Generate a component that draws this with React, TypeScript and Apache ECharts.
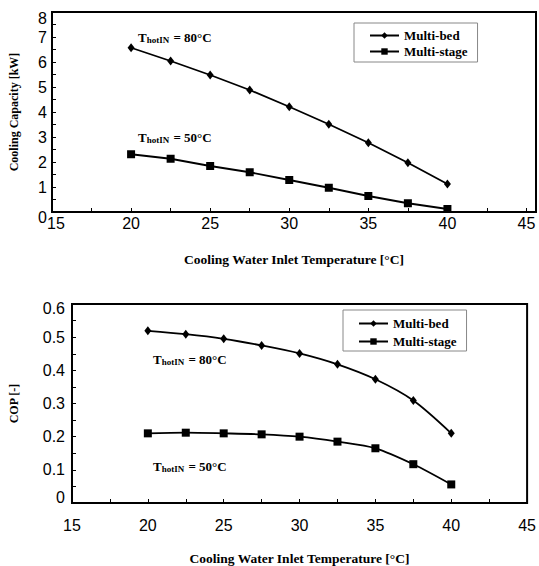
import React, { useEffect, useRef } from "react";
import * as echarts from "echarts";

const temps = [20, 22.5, 25, 27.5, 30, 32.5, 35, 37.5, 40];
const capacityMultiBed = [6.57, 6.04, 5.48, 4.88, 4.21, 3.51, 2.77, 1.97, 1.12];
const capacityMultiStage = [2.31, 2.13, 1.84, 1.59, 1.28, 0.97, 0.64, 0.35, 0.12];
const copMultiBed = [0.519, 0.509, 0.495, 0.475, 0.451, 0.418, 0.373, 0.309, 0.21];
const copMultiStage = [0.21, 0.212, 0.21, 0.207, 0.2, 0.185, 0.165, 0.117, 0.056];
const seriesNames = ["Multi-bed", "Multi-stage"];
const xTitle = "Cooling Water Inlet Temperature [°C]";
const yTitles = ["Cooling Capacity [kW]", "COP [-]"];

const SANS = "'Liberation Sans', Arial, sans-serif";
const SERIF = "'Liberation Serif', 'Times New Roman', serif";

const zip = (xs: number[], ys: number[]) => xs.map((x, i) => [x, ys[i]]);

const lbl = { fontFamily: SANS, fontSize: 16, color: "#000" };
const labelRich = {
  r: { ...lbl, padding: [0, 0, 0, 8] },
  d5: { ...lbl, padding: [10, 0, 0, 0] },
  d6: { ...lbl, padding: [12, 0, 0, 0] },
  d4: { ...lbl, padding: [8, 0, 0, 0] },
  u6: { ...lbl, padding: [0, 0, 12, 0] },
};

export default function App() {
  const ref = useRef<HTMLDivElement>(null);
  useEffect(() => {
    if (!ref.current) return;
    const chart = echarts.init(ref.current, null, { renderer: "svg" });

    const xAxisBase = (max: number, margin: number, nameGap: number, gridIndex: number, shiftFirst: boolean) => ({
      type: "value",
      gridIndex,
      min: 15,
      max,
      interval: 5,
      name: xTitle,
      nameLocation: "middle",
      nameGap,
      nameTextStyle: { fontFamily: SERIF, fontWeight: "bold", fontSize: 13.5, color: "#000" },
      axisLine: { show: true, lineStyle: { color: "#000", width: 2 } },
      axisTick: { show: true, inside: true, length: 4, lineStyle: { color: "#000", width: 1 } },
      minorTick: { show: true, splitNumber: 2, length: 4, lineStyle: { color: "#000", width: 1 } },
      splitLine: { show: false },
      axisLabel: {
        ...lbl,
        margin,
        rich: labelRich,
        formatter: (v: number) => {
          if (Math.abs(v % 5) > 1e-6) return "";
          if (shiftFirst && v === 15) return "{r|15}";
          return String(v);
        },
      },
    });

    const yAxisBase = (max: number, interval: number, name: string, nameGap: number, margin: number, gridIndex: number, fmt: (v: number) => string) => ({
      type: "value",
      gridIndex,
      min: 0,
      max,
      interval,
      name,
      nameLocation: "middle",
      nameGap,
      nameTextStyle: { fontFamily: SERIF, fontWeight: "bold", fontSize: 12, color: "#000" },
      axisLine: { show: true, lineStyle: { color: "#000", width: 2 } },
      axisTick: { show: true, inside: true, length: 4, lineStyle: { color: "#000", width: 1 } },
      minorTick: { show: true, splitNumber: 2, length: 4, lineStyle: { color: "#000", width: 1 } },
      splitLine: { show: false },
      axisLabel: { ...lbl, margin, rich: labelRich, formatter: fmt },
    });

    const lineSeries = (name: string, data: number[], idx: number, symbol: string, symbolSize: any, smooth: any) => ({
      type: "line",
      name,
      xAxisIndex: idx,
      yAxisIndex: idx,
      data: zip(temps, data),
      symbol,
      symbolSize,
      smooth,
      showSymbol: true,
      lineStyle: { color: "#000", width: 1.8 },
      itemStyle: { color: "#000" },
      emphasis: { disabled: true },
    });

    const legendBase = (left: number, top: number, padding: number[], itemGap: number) => ({
      show: true,
      orient: "vertical",
      left,
      top,
      padding,
      itemGap,
      itemWidth: 29,
      itemHeight: 8,
      borderColor: "#888",
      borderWidth: 1,
      backgroundColor: "#fff",
      data: seriesNames,
      textStyle: { fontFamily: SERIF, fontWeight: "bold", fontSize: 13, color: "#000" },
      selectedMode: false,
    });

    const rich = {
      a: { fontFamily: SERIF, fontWeight: "bold", fontSize: 13, fill: "#000", color: "#000" },
      b: { fontFamily: SERIF, fontWeight: "bold", fontSize: 9, fill: "#000", color: "#000", padding: [6, 1, 0, 0] },
    };
    const ann = (x: number, y: number, t: string) => ({
      type: "text",
      x,
      y,
      silent: true,
      style: {
        text: `{a|T}{b|hotIN}{a| = ${t}°C}`,
        rich,
        fill: "#000",
        align: "left",
        verticalAlign: "middle",
      },
    });

    chart.setOption({
      animation: false,
      backgroundColor: "#fff",
      grid: [
        { left: 47, top: 12, width: 489, height: 200, show: true, borderColor: "#000", borderWidth: 2, backgroundColor: "transparent" },
        { left: 67, top: 304, width: 463, height: 205, show: true, borderColor: "#000", borderWidth: 2, backgroundColor: "transparent" },
      ],
      xAxis: [xAxisBase(45.6, 3, 40, 0, true), xAxisBase(45, 14, 48, 1, false)],
      yAxis: [
        yAxisBase(8, 1, yTitles[0], 32, 5, 0, (v: number) => (v === 0 ? "{d5|0}" : v === 8 ? "{d6|8}" : String(v))),
        yAxisBase(0.6, 0.1, yTitles[1], 52, 7, 1, (v: number) => (v === 0 ? "{u6|0}" : Math.abs(v - 0.6) < 1e-6 ? "{d4|0.6}" : v.toFixed(1))),
      ],
      legend: [legendBase(354, 23, [6, 10, 4, 15], 3), legendBase(343, 310, [7, 10, 3, 15], 5)],
      series: [
        lineSeries(seriesNames[0], capacityMultiBed, 0, "diamond", [7, 9], false),
        lineSeries(seriesNames[1], capacityMultiStage, 0, "rect", 8, false),
        lineSeries(seriesNames[0], copMultiBed, 1, "diamond", [7, 9], 0.3),
        lineSeries(seriesNames[1], copMultiStage, 1, "rect", 8, 0.3),
      ],
      graphic: [ann(138, 37, "80"), ann(138, 137, "50"), ann(153, 359, "80"), ann(153, 466, "50")],
    });

    return () => chart.dispose();
  }, []);

  return <div ref={ref} style={{ position: "fixed", left: 0, top: 0, width: 539, height: 566 }} />;
}
